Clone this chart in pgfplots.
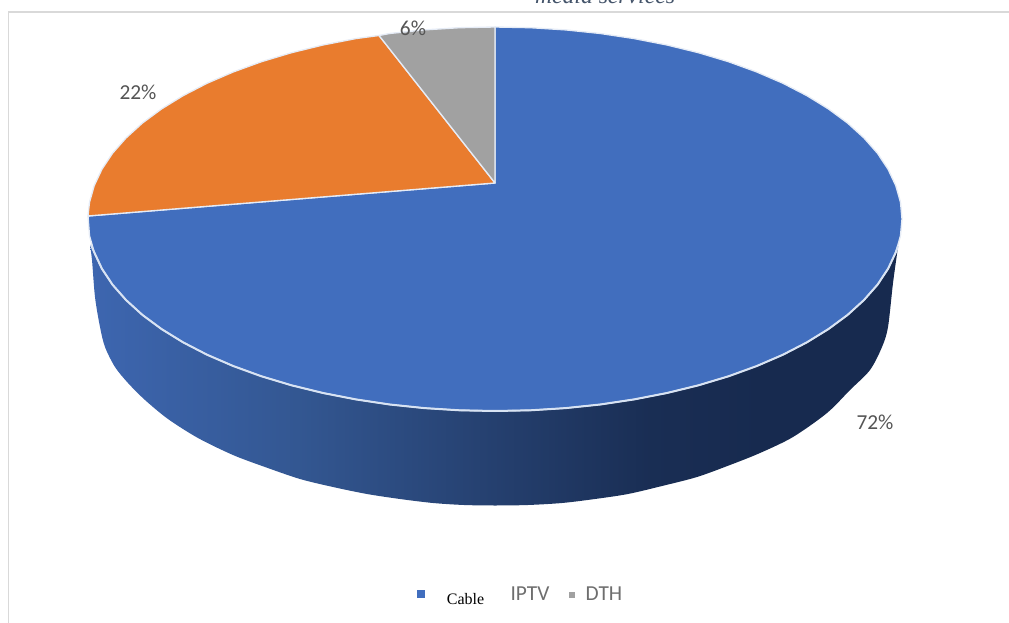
\documentclass[border=0pt]{standalone}
\usepackage{pgfplots}
\pgfplotsset{compat=1.18}
\usepackage{fontspec}
\setmainfont{Liberation Serif}
\newfontfamily\carlito{Carlito}

\definecolor{pieblue}{HTML}{416EBE}
\definecolor{pieorange}{HTML}{E97C2E}
\definecolor{piegray}{HTML}{A1A1A1}
\definecolor{edge}{HTML}{E6ECF6}
\definecolor{rim}{HTML}{D8E3F3}
\definecolor{labelgray}{HTML}{555555}
\definecolor{titleblue}{HTML}{44546A}

% side wall of the pie, light on the left and dark on the right
\pgfdeclarehorizontalshading{sidewall}{100bp}{
  rgb(0bp)=(0.24,0.40,0.69);
  rgb(25bp)=(0.24,0.40,0.69);
  rgb(38bp)=(0.20,0.34,0.57);
  rgb(50bp)=(0.145,0.25,0.435);
  rgb(59.6bp)=(0.10,0.18,0.33);
  rgb(66.5bp)=(0.09,0.165,0.31);
  rgb(100bp)=(0.09,0.165,0.31)}

\begin{document}
\begin{tikzpicture}
\clip (0,0) rectangle (756.75pt,467.25pt);
\begin{axis}[
    at={(0,0)},
    anchor=south west,
    scale only axis,
    width=756.75pt,
    height=467.25pt,
    xmin=0, xmax=1009,
    ymin=0, ymax=623,
    y dir=reverse,
    hide axis,
    clip=false,
  ]
  % frame
  \addplot[color=black!15, line width=0.9pt] coordinates {(8.5,623) (8.5,12) (1009,12)};

  % side wall
  \addplot[draw=none, shade, shading=sidewall, smooth, tension=0.5] coordinates {
    (90,245) (92,260) (95,297) (100,327) (105,347) (115,367) (128,383) (145,400)
    (168,419) (198,438) (233,455) (265,467) (300,479) (333,487)
    (367,494) (400,499) (433,503) (464,505) (495,505.5) (528,505) (562,503) (595,499)
    (628,494) (662,486) (697,477) (730,465) (760,453) (793,437) (827,413) (850,390)
    (870,370) (882,347) (888,327) (893,283) (898,247)
  } --cycle;

  % Cable 72%
  \addplot[fill=pieblue, draw=edge, line width=1pt, line join=round] coordinates {
    (495,183) (495,27) (530.5,27.7) (565.7,29.9) (600.3,33.5) (634.2,38.6) (667,45)
    (698.5,52.7) (728.5,61.7) (756.6,71.9) (782.8,83.2) (806.8,95.6) (828.4,108.9)
    (847.5,123) (863.9,137.9) (877.5,153.3) (888.1,169.3) (895.8,185.7) (900.5,202.3)
    (902,219) (900.5,235.7) (895.8,252.3) (888.1,268.7) (877.5,284.7) (863.9,300.1)
    (847.5,315) (828.4,329.1) (806.8,342.4) (782.8,354.8) (756.6,366.1) (728.5,376.3)
    (698.5,385.3) (667,393) (634.2,399.4) (600.3,404.5) (565.7,408.1) (530.5,410.3)
    (495,411) (459.5,410.3) (424.3,408.1) (389.7,404.5) (355.8,399.4) (323,393)
    (291.5,385.3) (261.5,376.3) (233.4,366.1) (207.2,354.8) (183.2,342.4) (161.6,329.1)
    (142.5,315) (126.1,300.1) (112.5,284.7) (101.9,268.7) (94.2,252.3) (89.5,235.7) (88,216)
  } --cycle;

  % brighter rim where the top meets the side wall
  \addplot[color=rim, line width=1.5pt, line join=round] coordinates {
    (91,245) (94.2,252.3) (101.9,268.7) (112.5,284.7) (126.1,300.1) (142.5,315) (161.6,329.1)
    (183.2,342.4) (207.2,354.8) (233.4,366.1) (261.5,376.3) (291.5,385.3) (323,393)
    (355.8,399.4) (389.7,404.5) (424.3,408.1) (459.5,410.3) (495,411) (530.5,410.3)
    (565.7,408.1) (600.3,404.5) (634.2,399.4) (667,393) (698.5,385.3) (728.5,376.3)
    (756.6,366.1) (782.8,354.8) (806.8,342.4) (828.4,329.1) (847.5,315) (863.9,300.1)
    (877.5,284.7) (888.1,268.7) (895.8,252.3) (898,246)
  };

  % IPTV 22%
  \addplot[fill=pieorange, draw=edge, line width=1pt, line join=round] coordinates {
    (495,183) (88,216) (89.5,202.3) (94.2,185.7) (101.9,169.3) (112.5,153.3) (126.1,137.9)
    (142.5,123) (161.6,108.9) (183.2,95.6) (207.2,83.2) (233.4,71.9) (261.5,61.7)
    (291.5,52.7) (323,45) (355.8,38.6) (379,35.5)
  } --cycle;

  % DTH 6%
  \addplot[fill=piegray, draw=edge, line width=1pt, line join=round] coordinates {
    (495,183) (379,35.5) (389.7,33.5) (424.3,29.9) (459.5,27.7) (495,27)
  } --cycle;

  % legend markers
  \addplot[only marks, mark=square*, mark size=2.6pt, color=pieblue] coordinates {(421,594)};
  \addplot[only marks, mark=square*, mark size=2pt, color=piegray] coordinates {(572,595)};

  \node[font=\carlito\fontsize{16}{18}\selectfont, text=labelgray] at (axis cs:413,28) {6\%};
  \node[font=\carlito\fontsize{16}{18}\selectfont, text=labelgray] at (axis cs:138,92) {22\%};
  \node[font=\carlito\fontsize{16}{18}\selectfont, text=labelgray] at (axis cs:875,422) {72\%};

  \node[font=\fontsize{12}{14}\selectfont, text=black, anchor=base] at (axis cs:465.5,604) {Cable};
  \node[font=\carlito\fontsize{16}{18}\selectfont, text=labelgray!85, anchor=base] at (axis cs:530,600) {IPTV};
  \node[font=\carlito\fontsize{16}{18}\selectfont, text=labelgray!85, anchor=base] at (axis cs:604,600) {DTH};

  % title is cut by the top edge in the source too
  \node[font=\itshape\fontsize{17.75}{20}\selectfont, text=titleblue, anchor=base] at (axis cs:605,4) {media services};
\end{axis}
\end{tikzpicture}
\end{document}
